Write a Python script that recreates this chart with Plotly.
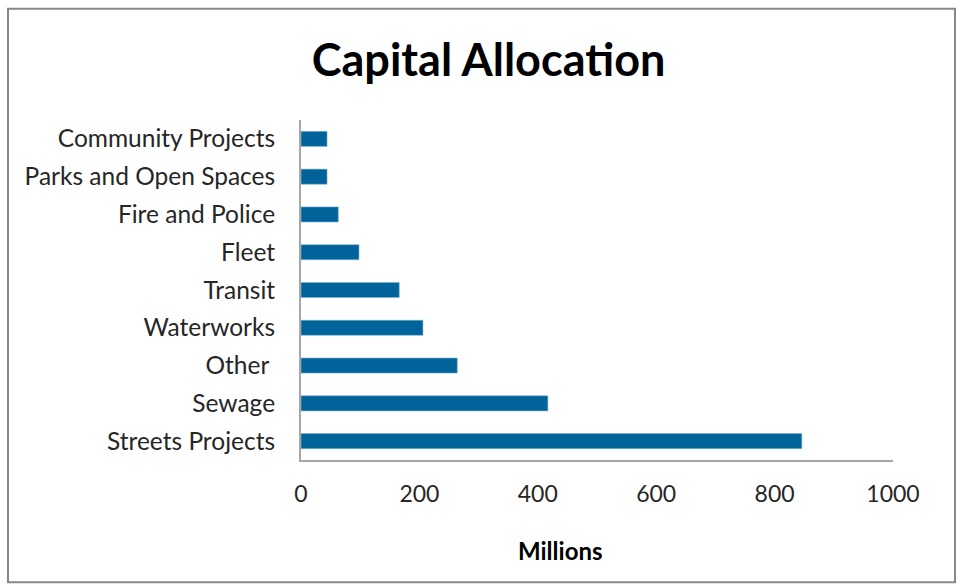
import plotly.graph_objects as go

categories = ["Streets Projects", "Sewage", "Other ", "Waterworks", "Transit",
              "Fleet", "Fire and Police", "Parks and Open Spaces", "Community Projects"]
values = [846, 417, 264, 206, 166, 98, 63, 44, 44]
x_ticks = [0, 200, 400, 600, 800, 1000]

FONT = "Lato, Calibri, 'Open Sans', sans-serif"

fig = go.Figure(go.Bar(
    x=values, y=categories, orientation="h",
    marker=dict(color="#00649A", line=dict(color="#7fb3d0", width=0.6)),
    width=0.4,
))

fig.update_layout(
    width=958, height=584,
    margin=dict(l=301, r=65, t=120, b=124),
    paper_bgcolor="white", plot_bgcolor="white",
    showlegend=False,
    title=dict(text="<b>Capital Allocation</b>", x=0.51, xanchor="center",
               y=0.897, yanchor="middle",
               font=dict(family=FONT, size=45, color="black")),
    font=dict(family=FONT, size=24, color="#262626"),
)
fig.update_xaxes(range=[0, 1000], tickvals=x_ticks, showgrid=False, zeroline=False,
                 showline=True, linecolor="#A6A6A6", linewidth=2,
                 ticks="", ticklabelstandoff=12,
                 tickfont=dict(family=FONT, size=23, color="#262626"))
fig.update_yaxes(categoryorder="array", categoryarray=categories,
                 range=[-0.5, len(categories) - 0.5],
                 showgrid=False, zeroline=False,
                 showline=True, linecolor="#A6A6A6", linewidth=2,
                 ticks="", ticklabelstandoff=19,
                 tickfont=dict(family=FONT, size=24.5, color="#262626"))

fig.add_annotation(text="<b>Millions</b>", xref="paper", yref="paper",
                   x=(560 - 301) / 592, y=(460.5 - 551) / 341,
                   xanchor="center", yanchor="middle", showarrow=False,
                   font=dict(family=FONT, size=24, color="black"))

fig.add_shape(type="rect", xref="paper", yref="paper",
              x0=(8 - 301) / 592, x1=(955 - 301) / 592,
              y0=(460.5 - 583) / 341, y1=(460.5 - 8) / 341,
              line=dict(color="#888888", width=2), fillcolor="rgba(0,0,0,0)",
              layer="below")

fig.write_html("out.html")
